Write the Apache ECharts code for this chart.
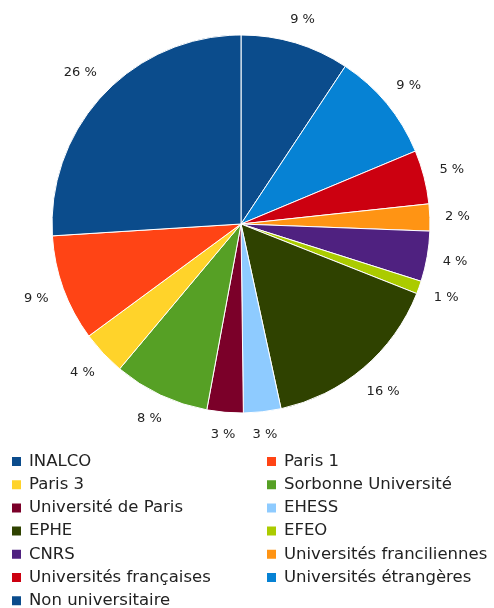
<!DOCTYPE html>
<html><head><meta charset="utf-8">
<script src="https://cdn.jsdelivr.net/npm/echarts@6/dist/echarts.min.js"></script>
<style>html,body{margin:0;padding:0;background:#fff}#c{width:494px;height:608px}</style>
</head><body><div id="c"></div>
<script>
// Slices in drawing order (clockwise from 12 o'clock)
const categories = ["INALCO","Universités étrangères","Universités françaises","Universités franciliennes","CNRS","EFEO","EPHE","EHESS","Université de Paris","Sorbonne Université","Paris 3","Paris 1","Non universitaire"];
const values = [9.3, 9.4, 4.6, 2.3, 4.3, 1.1, 15.6, 3.2, 3.1, 8.2, 3.8, 9.1, 26.0];
const colors = ["#0b4c8c","#0682d4","#cc0010","#ff9414","#4f2180","#abcb00","#2f4200","#8ecbff","#7b0029","#56a025","#ffd32a","#ff4415","#0b4c8c"];
const legendLeft = ["INALCO","Paris 3","Université de Paris","EPHE","CNRS","Universités françaises","Non universitaire"];
const legendRight = ["Paris 1","Sorbonne Université","EHESS","EFEO","Universités franciliennes","Universités étrangères"];

const CX = 241, CY = 224, R = 189, GAP = 15;
const total = values.reduce((a,b)=>a+b,0);
const cum = [];
values.reduce((acc,v,i)=>{cum[i]=acc; return acc+v;},0);

const chart = echarts.init(document.getElementById('c'), null, {renderer:'canvas'});
const font = "DejaVu Sans";
const legendBase = {
  orient:'vertical', icon:'rect', itemWidth:11, itemHeight:11, itemGap:6.2,
  height:200,
  textStyle:{fontFamily:font, fontSize:16.5, color:'#222', padding:[0,0,0,2]}, top:453, padding:0
};
chart.setOption({
  animation:false,
  color: colors,
  legend:[
    Object.assign({}, legendBase, {left:10, data:legendLeft}),
    Object.assign({}, legendBase, {left:265, data:legendRight})
  ],
  series:[{
    type:'pie',
    center:[CX,CY],
    radius:[0,R],
    startAngle:90,
    clockwise:true,
    avoidLabelOverlap:false,
    itemStyle:{borderColor:'#fff', borderWidth:1},
    label:{
      show:true, position:'outside', fontFamily:font, fontSize:13, color:'#222',
      formatter: p => Math.round(p.percent) + ' %'
    },
    labelLine:{show:false},
    labelLayout: function(p){
      const i = p.dataIndex;
      const th = (cum[i] + values[i]/2) / total * 2 * Math.PI;
      const s = Math.sin(th), c = Math.cos(th);
      const hw = p.labelRect.width/2, hh = p.labelRect.height/2;
      const d = R + GAP + Math.abs(s)*hw + Math.abs(c)*hh;
      return {x: CX + d*s, y: CY - d*c, align:'center', verticalAlign:'middle'};
    },
    emphasis:{disabled:true},
    data: categories.map((c,i)=>({name:c, value:values[i]}))
  }]
});
</script></body></html>
